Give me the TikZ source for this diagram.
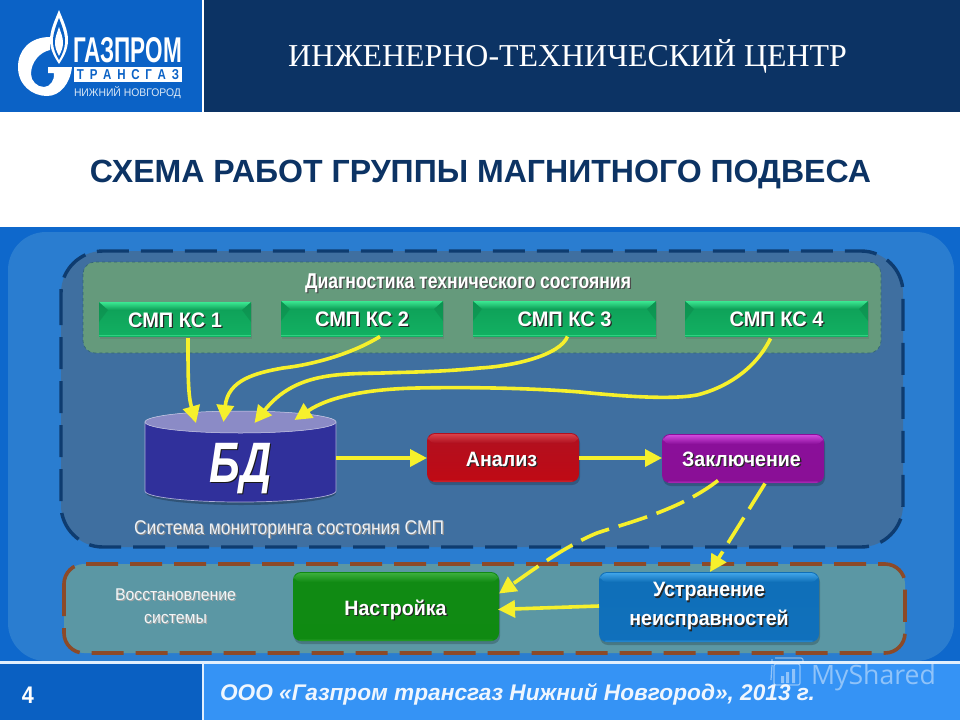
\documentclass[tikz,border=0pt]{standalone}
\usepackage{graphicx}
\usepackage{fontspec}
\setmainfont{Liberation Sans}
\newfontfamily\serifcy{Liberation Serif}
\newfontfamily\latinwm{Open Sans}
\usetikzlibrary{arrows.meta,shapes.geometric}
\definecolor{navy}{HTML}{0C3364}
\definecolor{logoblue}{HTML}{0B62C6}
\definecolor{band}{HTML}{0E68CC}
\definecolor{inner}{HTML}{2A7DD0}
\definecolor{panel}{HTML}{3F6FA0}
\definecolor{panelline}{HTML}{0E3C70}
\definecolor{diag}{HTML}{659A7C}
\definecolor{rest}{HTML}{5B97A4}
\definecolor{brownline}{HTML}{8C4A28}
\definecolor{footl}{HTML}{0A60C2}
\definecolor{footr}{HTML}{3593F5}
\definecolor{arrowy}{HTML}{F6F02C}
\definecolor{cylside}{HTML}{30309B}
\definecolor{cyltop}{HTML}{8B8BC6}
\definecolor{kstop}{HTML}{3BE892}
\definecolor{ksbot}{HTML}{0E9F57}
\definecolor{kslow}{HTML}{12B062}
\definecolor{redm}{HTML}{B01020}
\definecolor{redb}{HTML}{C00A14}
\definecolor{redt}{HTML}{D84048}
\definecolor{purm}{HTML}{8A0F9A}
\definecolor{purb}{HTML}{8A0F96}
\definecolor{purt}{HTML}{CF48DC}
\definecolor{grnm}{HTML}{118A14}
\definecolor{grnb}{HTML}{0F8A12}
\definecolor{grnt}{HTML}{3BAE3C}
\definecolor{blum}{HTML}{0F6FB8}
\definecolor{blub}{HTML}{1070BC}
\definecolor{blut}{HTML}{3FA4E8}
\newcommand{\shd}[2][black!85]{\leavevmode\rlap{\kern1.3pt\raisebox{-1.3pt}{\textcolor{#1}{#2}}}#2}
\newcommand{\flatbtn}[3]{%
  \fill[black!60,opacity=.3] (#1+1,#2+2) rectangle (#3+1,336+3);
  \shade[bottom color=kslow,top color=ksbot] (#1,#2) rectangle (#3,336);
  \shade[top color=kstop,bottom color=ksbot] (#1,#2) -- (#3,#2) -- (#3-9,#2+8) -- (#1+9,#2+8) -- cycle;
  \fill[ksbot!75!black,opacity=.3] (#1,#2) -- (#1+9,#2+8) -- (#1,#2+20) -- cycle;
  \fill[ksbot!75!black,opacity=.3] (#3,#2) -- (#3-9,#2+8) -- (#3,#2+20) -- cycle;
  \fill[kstop!70!ksbot] (#1,335) rectangle (#3,336);
}
\newcommand{\glossbtn}[7]{%
  \fill[black,opacity=.2,rounded corners=8pt] (#1+1,#2+2) rectangle (#3+1,#4+3);
  \shade[rounded corners=8pt,top color=#5,bottom color=#6] (#1,#2) rectangle (#3,#4);
  \shade[rounded corners=7pt,top color=#7,bottom color=#5] (#1+1,#2+1) rectangle (#3-1,#2+10);
  \fill[#7,opacity=.6,rounded corners=1pt] (#1+6,#4-1.5) rectangle (#3-6,#4-.3);
}
\tikzset{
  x=1pt,y=-1pt,
  every node/.style={inner sep=0pt,outer sep=0pt},
  wt/.style={text=white,font=\bfseries\fontsize{20}{24}\selectfont,align=center},
  flow/.style={draw=arrowy,line width=3.6pt,-{Triangle[length=17pt,width=17pt]}},
  dflow/.style={flow,dash pattern=on 30pt off 10pt},
}
\begin{document}
\begin{tikzpicture}
\useasboundingbox (0,0) rectangle (960,720);
% header
\fill[white] (0,0) rectangle (960,720);
\fill[logoblue] (0,0) rectangle (202,112);
\fill[navy] (204,0) rectangle (960,112);
% logo
\fill[white] (50,37) .. controls (30,37) and (18,50) .. (18,67) .. controls (18,85) and (32,96) .. (47,96) .. controls (60,96) and (70,84) .. (72,67) -- (48,67) -- (48,73) -- (54,73) .. controls (55,80) and (50,87) .. (44,87) .. controls (37,87) and (31,81) .. (31,74) .. controls (31,62) and (40,52) .. (50,50) -- cycle;
\fill[white] (59,10) .. controls (63,20) and (68,30) .. (68,40) .. controls (68,50) and (63,58) .. (59,64) .. controls (55,58) and (50,50) .. (50,40) .. controls (50,30) and (55,20) .. (59,10) -- cycle;
\fill[logoblue] (59,18) .. controls (62,26) and (65,33) .. (65,41) .. controls (65,49) and (62,55) .. (59,60) .. controls (56,55) and (53,49) .. (53,41) .. controls (53,33) and (56,26) .. (59,18) -- cycle;
\fill[white] (59,27) .. controls (61,33) and (63,37) .. (63,43) .. controls (63,48) and (61,52) .. (59,56) .. controls (57,52) and (55,48) .. (55,43) .. controls (55,37) and (57,33) .. (59,27) -- cycle;
\node[anchor=north west,text=white,font=\bfseries] (logoa) at (73,37) {\resizebox{109pt}{25pt}{ГАЗПРОМ}};
\fill[white] (74,67) rectangle (182,82);
\node[text=logoblue,font=\bfseries] (logob) at (128,74.5) {\resizebox{102pt}{10pt}{Т\,\,\,Р\,\,\,А\,\,\,Н\,\,\,С\,\,\,Г\,\,\,А\,\,\,З}};
\node[anchor=north west,text=white!85!logoblue] (logoc) at (74,86) {\resizebox{107pt}{10pt}{НИЖНИЙ НОВГОРОД}};
\node[text=white,font=\serifcy\fontsize{30}{36}\selectfont] (head) at (567.5,56) {\resizebox{559pt}{!}{ИНЖЕНЕРНО-ТЕХНИЧЕСКИЙ ЦЕНТР}};
\node[text=navy,font=\bfseries\fontsize{31}{37}\selectfont] (title) at (480.5,174) {\resizebox{781pt}{!}{СХЕМА РАБОТ ГРУППЫ МАГНИТНОГО ПОДВЕСА}};
% main band
\fill[band] (0,227) rectangle (960,661);
\fill[inner,rounded corners=38pt] (8,232) rectangle (954,661);
% footer
\fill[footl] (0,661) rectangle (202,720);
\fill[footr] (204,661) rectangle (960,720);
\fill[white!85!footr] (0,660.5) rectangle (960,663.5);
\fill[white!85!footr] (202,663) rectangle (204,720);
\node[text=white,font=\bfseries\fontsize{24}{28}\selectfont] (num) at (28,695) {\scalebox{.9}[1]{4}};
\node[anchor=west,text=white!92!footr,font=\bfseries\itshape\fontsize{21}{25}\selectfont] (foot) at (220,694) {\resizebox{595pt}{!}{ООО «Газпром трансгаз Нижний Новгород», 2013 г.}};
% monitoring panel
\draw[fill=panel,draw=panelline,line width=3.4pt,rounded corners=42pt,dash pattern=on 32pt off 12pt] (61,251) rectangle (903,547);
\draw[fill=diag,draw=panelline!60!diag,line width=.6pt,dashed,rounded corners=12pt] (83,262) rectangle (881,353);
\node[wt,font=\bfseries\fontsize{18}{22}\selectfont] (diagt) at (468,284) {\shd[black!70]{\resizebox*{326pt}{19pt}{Диагностика технического состояния}}};
% KS buttons
\flatbtn{99}{302}{251}
\flatbtn{281}{301}{443}
\flatbtn{473}{301}{656}
\flatbtn{685}{301}{868}
\node[wt,minimum width=152pt,minimum height=34pt] (k1) at (175,321) {\shd{\scalebox{1}[1.05]{СМП КС 1}}};
\node[wt,minimum width=162pt,minimum height=35pt] (k2) at (362,320) {\shd{\scalebox{1}[1.05]{СМП КС 2}}};
\node[wt,minimum width=183pt,minimum height=35pt] (k3) at (564.5,320) {\shd{\scalebox{1}[1.05]{СМП КС 3}}};
\node[wt,minimum width=183pt,minimum height=35pt] (k4) at (776.5,320) {\shd{\scalebox{1}[1.05]{СМП КС 4}}};
% cylinder
\fill[black,opacity=.25] (146,424) -- (146,493) arc[x radius=95,y radius=-12,start angle=180,end angle=360] -- (336,424) -- cycle;
\draw[fill=cylside,draw=white!60!cylside,line width=.7pt] (145,422) -- (145,491) arc[x radius=95.5,y radius=-11,start angle=180,end angle=360] -- (336,422) -- cycle;
\draw[fill=cyltop,draw=white!60!cyltop,line width=.5pt] (240.5,422) ellipse[x radius=95.5,y radius=11];
\node[text=white,font=\bfseries\itshape\fontsize{57}{60}\selectfont,minimum width=191pt,minimum height=90pt] (db) at (240.5,462) {\raisebox{-20pt}[0pt][0pt]{\shd[black!90]{\scalebox{.76}[1]{БД}}}};
\node[text=white!90!panel,font=\fontsize{19}{23}\selectfont] (syst) at (289,530) {\shd[black!45]{\resizebox*{310pt}{18pt}{Система мониторинга состояния СМП}}};
% analysis row
\glossbtn{427}{433}{579}{482}{redm}{redb}{redt}
\glossbtn{662}{434}{824}{483}{purm}{purb}{purt}
\node[wt,minimum width=152pt,minimum height=49pt] (an) at (503,458) {\raisebox{-8pt}[0pt][0pt]{\shd{\kern-3pt\scalebox{.98}[1.04]{Анализ}}}};
\node[wt,minimum width=162pt,minimum height=49pt] (za) at (743,459) {\raisebox{-7pt}[0pt][0pt]{\shd{\kern-3pt\scalebox{.98}[1.04]{Заключение}}}};
% restoration panel
\draw[fill=rest,draw=brownline,line width=3.6pt,rounded corners=20pt,dash pattern=on 32pt off 12pt] (64,564) rectangle (905,653);
\node[text=white!92!rest,font=\fontsize{17}{23}\selectfont,align=center] (vost) at (175.5,607) {\shd[black!35]{\scalebox{.93}[1]{Восстановление}}\\\shd[black!35]{\scalebox{.93}[1]{системы}}};
\glossbtn{293}{572}{499}{641}{grnm}{grnb}{grnt}
\glossbtn{599}{572}{819}{642}{blum}{blub}{blut}
\node[wt,minimum width=206pt,minimum height=69pt] (na) at (396,606.5) {\raisebox{-8.5pt}[0pt][0pt]{\shd{\kern-1pt\scalebox{.98}[1.04]{Настройка}}}};
\node[wt,minimum width=220pt,minimum height=70pt,font=\bfseries\fontsize{20}{29}\selectfont] (us) at (709,607) {\shd{\scalebox{.98}[1.04]{Устранение}}\\\shd{\scalebox{.98}[1.04]{неисправностей}}};
% connectors
\draw[flow] ([xshift=13pt]k1.south) .. controls (188,375) and (188,395) .. ([xshift=-44.5pt,yshift=-6pt]db.north);
\draw[flow] ([xshift=18pt,yshift=1pt]k2.south) .. controls (350,355) and (310,365) .. (283,368) .. controls (255,373) and (228,380) .. ([xshift=-17pt,yshift=-5pt]db.north);
\draw[flow] ([xshift=3pt,yshift=1pt]k3.south) .. controls (560,355) and (515,366) .. (480,368) .. controls (440,372) and (410,372) .. (383,373) .. controls (340,374) and (295,372) .. ([xshift=14pt,yshift=-6pt]db.north);
\draw[flow] ([xshift=-6pt,yshift=-1pt]k4.south) .. controls (755,370) and (725,388) .. (697,395) .. controls (670,400) and (620,396) .. (580,392) .. controls (530,388) and (470,387) .. (417,388) .. controls (370,389) and (330,396) .. ([xshift=54pt,yshift=-3pt]db.north);
\draw[flow] ([yshift=4pt]db.east) -- (an.west);
\draw[flow] (an.east) -- ([yshift=1pt]za.west);
\draw[dflow] ([xshift=-25pt,yshift=3pt]za.south) .. controls (680,510) and (630,522) .. (597,533) .. controls (565,546) and (530,572) .. ([yshift=13pt]na.east);
\draw[dflow] ([xshift=22pt]za.south) -- ([xshift=1pt]us.north);
\draw[flow] ([yshift=1pt]us.west) -- ([yshift=-3pt,xshift=-1pt]na.east);
% watermark
\begin{scope}[opacity=.45]
\draw[white,line width=1.2pt,rounded corners=2pt] (772,665) -- (771,680) (775,658) -- (803,658) -- (803,662) (772,659) -- (772,663) (774,664) rectangle (800,685);
\fill[white] (781,676) rectangle (784,683) (786,672) rectangle (789,683) (792,669) rectangle (795,683);
\node[anchor=west,text=white,font=\latinwm\fontsize{29}{34}\selectfont] (wm) at (811,678) {\resizebox{125pt}{!}{MyShared}};
\end{scope}
\end{tikzpicture}
\end{document}
